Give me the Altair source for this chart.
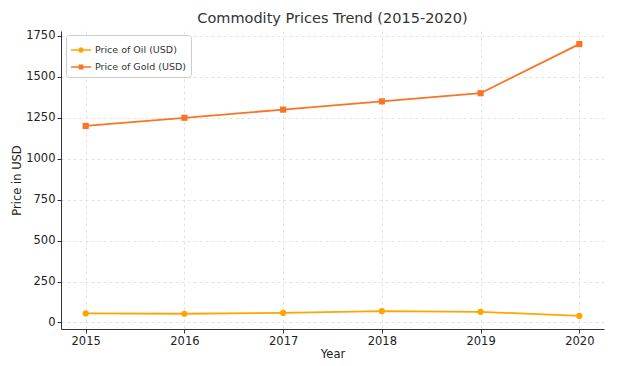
import altair as alt
import pandas as pd

years = [2015, 2016, 2017, 2018, 2019, 2020]
oil = [55, 53, 58, 69, 65, 40]
gold = [1200, 1250, 1300, 1350, 1400, 1700]
series = ["Price of Oil (USD)", "Price of Gold (USD)"]
colors = ["#FFA500", "#F97424"]
shapes = ["circle", "square"]
# legend glyphs: short line with the marker on it
legend_glyphs = [
    "M-1,-0.07H1V0.07H-1Z M0.27,0A0.27,0.27,0,1,1,-0.27,0A0.27,0.27,0,1,1,0.27,0Z",
    "M-1,-0.07H1V0.07H-1Z M-0.24,-0.24H0.24V0.24H-0.24Z",
]

rows = []
for y, v in zip(years, oil):
    rows.append({"Year": y, "Price": v, "Series": series[0]})
for y, v in zip(years, gold):
    rows.append({"Year": y, "Price": v, "Series": series[1]})
df = pd.DataFrame(rows)

font = "DejaVu Sans"
grid_col = "#e3e3e3"
x = alt.X("Year:Q", title="Year",
          scale=alt.Scale(domain=[2014.75, 2020.25], nice=False, zero=False),
          axis=alt.Axis(values=years, format="d", labelFontSize=11.5, titleFontSize=11.5,
                        labelFont=font, titleFont=font, grid=True, gridDash=[3, 3],
                        gridColor=grid_col, domainColor="#333333", tickColor="#333333",
                        labelColor="#222222", titleColor="#222222", titleFontWeight="normal",
                        tickSize=4, labelPadding=2, titlePadding=2))
y = alt.Y("Price:Q", title="Price in USD",
          scale=alt.Scale(domain=[-40, 1780], nice=False, zero=False),
          axis=alt.Axis(values=[0, 250, 500, 750, 1000, 1250, 1500, 1750], format="d",
                        labelFontSize=11.5, titleFontSize=11.5, labelFont=font, titleFont=font,
                        grid=True, gridDash=[3, 3], gridColor=grid_col, domainColor="#333333",
                        tickColor="#333333", labelColor="#222222", titleColor="#222222",
                        titleFontWeight="normal", tickSize=4, labelPadding=2, titlePadding=3))
color = alt.Color("Series:N", scale=alt.Scale(domain=series, range=colors),
                  legend=alt.Legend(title=None, orient="none", legendX=5, legendY=4,
                                    labelFont=font, labelFontSize=9.5, labelColor="#333333",
                                    strokeColor="#cccccc", fillColor="white", padding=5,
                                    cornerRadius=3, symbolSize=400, symbolOpacity=1,
                                    symbolStrokeWidth=0, rowPadding=2, labelOffset=4))
leg_shape = alt.Shape("Series:N", scale=alt.Scale(domain=series, range=legend_glyphs))

base = alt.Chart(df)
layers = []
for s, c, sh in zip(series, colors, shapes):
    sub = base.transform_filter(alt.datum.Series == s)
    layers.append(sub.mark_line(strokeWidth=1.8, color=c).encode(x=x, y=y))
    layers.append(sub.mark_point(filled=True, size=38, opacity=1, shape=sh, color=c).encode(x=x, y=y))
# carries the legend only; it draws no marks of its own
legend_layer = base.transform_filter("false").mark_point(filled=True, opacity=1).encode(
    x=x, y=y, color=color, shape=leg_shape)
layers.append(legend_layer)

chart = alt.layer(*layers).properties(
    width=606, height=352,
    autosize=alt.AutoSizeParams(type="fit", contains="padding"),
    title=alt.TitleParams("Commodity Prices Trend (2015-2020)", font=font, fontSize=14.5,
                          fontWeight="normal", color="#333333", offset=3),
    padding={"left": 3, "top": 4, "right": 10, "bottom": 0},
).configure_view(stroke=None)

chart.save("out.html", embed_options={"renderer": "svg", "actions": False})
